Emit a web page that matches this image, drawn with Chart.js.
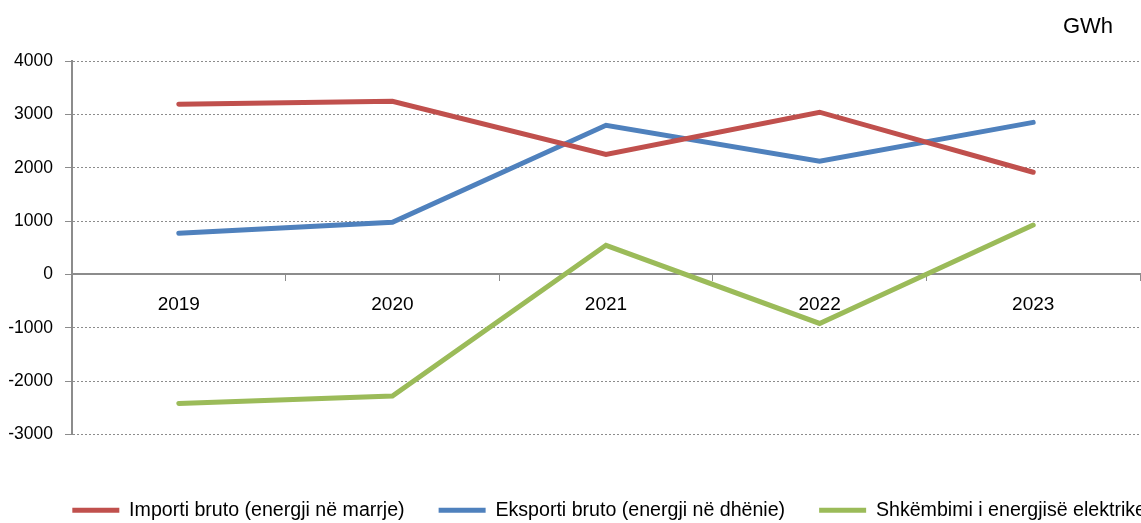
<!DOCTYPE html>
<html>
<head>
<meta charset="utf-8">
<script src="https://cdn.jsdelivr.net/npm/chart.js@4.4.1/dist/chart.umd.min.js"></script>
<style>
  html, body { margin: 0; padding: 0; background: #fff; }
  #wrap { width: 1141px; height: 523px; position: relative; }
</style>
</head>
<body>
<div id="wrap"><canvas id="c"></canvas></div>
<script>
const categories = ['2019', '2020', '2021', '2022', '2023'];
const importValues = [3190, 3245, 2250, 3040, 1915];
const exportValues = [770, 975, 2795, 2120, 2850];
const exchangeValues = [-2420, -2280, 545, -920, 925];
const seriesNames = ['Importi bruto (energji në marrje)', 'Eksporti bruto (energji në dhënie)', 'Shkëmbimi i energjisë elektrike'];
const unitLabel = 'GWh';
const yMin = -3000, yMax = 4000, yStep = 1000;

const FONT = "'Liberation Sans', Arial, sans-serif";
const GRID = '#8c8c8c';

const unitPlugin = {
  id: 'unitLabel',
  afterDraw(chart) {
    const ctx = chart.ctx;
    ctx.save();
    ctx.font = '22px ' + FONT;
    ctx.fillStyle = '#000';
    ctx.textAlign = 'right';
    ctx.textBaseline = 'middle';
    ctx.fillText(unitLabel, chart.chartArea.right - 27, 27);
    ctx.restore();
  }
};

function lineDs(label, data, color) {
  return {
    label, data,
    borderColor: color, backgroundColor: color,
    borderWidth: 5, borderCapStyle: 'round', borderJoinStyle: 'miter',
    pointRadius: 0, pointHoverRadius: 0, tension: 0, fill: false,
    xAxisID: 'x', yAxisID: 'y'
  };
}

new Chart(document.getElementById('c'), {
  type: 'line',
  data: {
    labels: categories,
    datasets: [
      lineDs(seriesNames[0], importValues, '#C0504D'),
      lineDs(seriesNames[1], exportValues, '#4F81BD'),
      lineDs(seriesNames[2], exchangeValues, '#9BBB59')
    ]
  },
  options: {
    responsive: true,
    maintainAspectRatio: false,
    animation: false,
    layout: { padding: { top: 61, left: 4, right: -39, bottom: -7 } },
    plugins: {
      tooltip: { enabled: false },
      title: { display: false },
      legend: {
        position: 'bottom',
        align: 'end',
        labels: {
          usePointStyle: true,
          pointStyle: 'line',
          pointStyleWidth: 47,
          padding: 34,
          color: '#000',
          font: { size: 19.6, family: FONT }
        }
      }
    },
    scales: {
      x: {
        type: 'category',
        position: { y: 0 },
        offset: true,
        grid: { display: true, drawOnChartArea: false, drawTicks: true, offset: true, tickLength: 6, color: GRID, tickColor: GRID, lineWidth: 1 },
        border: { display: true, color: GRID, width: 2 },
        ticks: { color: '#000', font: { size: 19, family: FONT }, padding: 13, maxRotation: 0 }
      },
      y: {
        type: 'linear',
        position: 'left',
        min: yMin, max: yMax,
        afterFit(s) { s.width = 68; },
        grid: { color: GRID, lineWidth: 1, drawTicks: true, tickLength: 7, tickColor: GRID },
        border: { display: true, color: GRID, width: 2, dash: [2, 2] },
        ticks: { stepSize: yStep, color: '#000', font: { size: 17.5, family: FONT }, padding: 12, callback: (v) => String(v) }
      },
      x2: {
        type: 'category',
        position: 'bottom',
        display: true,
        afterFit(s) { s.height = 32; },
        grid: { display: false },
        border: { display: false },
        ticks: { display: false }
      },
      y2: {
        type: 'linear',
        position: 'right',
        display: true,
        afterFit(s) { s.width = 40; },
        grid: { display: false },
        border: { display: false },
        ticks: { display: false }
      }
    }
  },
  plugins: [unitPlugin]
});
</script>
</body>
</html>
